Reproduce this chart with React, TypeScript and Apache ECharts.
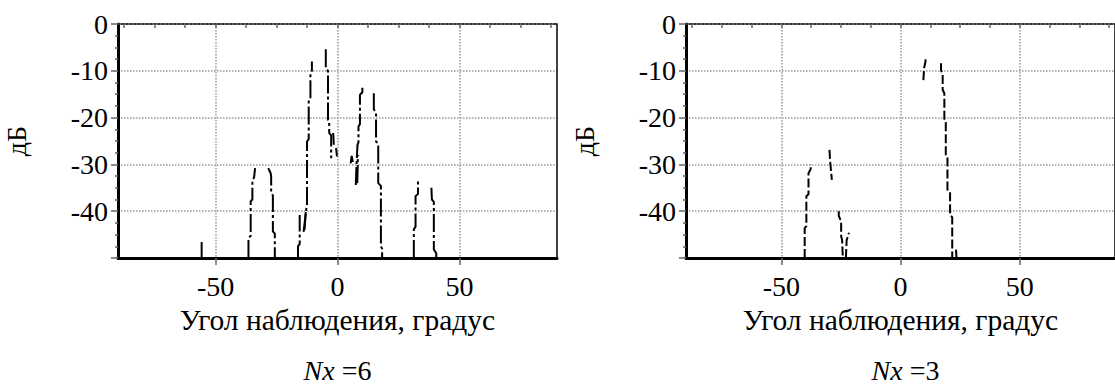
import React, { useEffect, useRef } from "react";
import * as echarts from "echarts";

const FONT = "Liberation Serif";

const xTitle = "Угол наблюдения, градус";
const yTitle = "дБ";
const panelLabels = ["6", "3"];
const xMinorTicks = [-87.5, -75, -62.5, -50, -37.5, -25, -12.5, 0, 12.5, 25, 37.5, 50, 62.5, 75, 87.5];

// Nx = 6 : traced curve pieces [angle, dB]
const leftStrokes: number[][][] = [
  [[-55.7, -46.6], [-55.7, -50]],
  [[-36.5, -50], [-36.5, -45.7], [-35.6, -45.3], [-35.6, -37.9], [-34.9, -37.5], [-34.9, -33.3], [-34.2, -32.8], [-33.8, -30.8]],
  [[-28.4, -30.8], [-27.4, -31.9], [-27.2, -32.5], [-27.2, -36.1], [-26.5, -36.6], [-26.5, -44.3], [-25.7, -44.8], [-25.7, -50]],
  [[-16.2, -50], [-16.2, -47.5], [-15.5, -47], [-15.5, -40.8]],
  [[-13.9, -44.4], [-12.8, -39.5], [-12.5, -39], [-12.5, -25.1], [-11.8, -24.6], [-11.8, -16.2], [-11.1, -15.7], [-11.1, -10.5], [-10.5, -10], [-10.5, -8]],
  [[-13.5, -44], [-13.0, -40]],
  [[-4.8, -5.4], [-4.8, -9.5], [-3.9, -10], [-3.9, -20.5], [-3.4, -21], [-3.4, -23.3], [-2.6, -23.8], [-2.6, -28.7]],
  [[-1.8, -23.3], [-1.5, -25.8]],
  [[-0.6, -26.5], [-0.2, -28.3]],
  [[5.4, -29.8], [5.8, -28.2], [6.3, -29.5]],
  [[7.5, -34.4], [7.8, -30], [8.2, -25.8], [8.6, -25.3], [8.6, -21.9], [9.2, -21.4], [9.2, -15.1], [10.2, -14.6], [10.2, -13.2]],
  [[8.1, -34], [8.4, -28]],
  [[14.9, -14.8], [14.9, -18.3], [15.8, -18.8], [15.8, -25.1], [16.7, -25.6], [16.7, -34], [17.8, -34.6], [17.8, -47.5], [18.3, -48], [18.3, -50]],
  [[31.3, -50], [31.3, -43.9], [32, -43.3], [32, -36.8], [33, -36.3], [33, -33.3]],
  [[38.5, -35], [38.7, -37.5], [39.5, -38], [39.5, -48.2], [40.5, -49], [40.5, -50]],
];

// Nx = 3 : traced curve pieces [angle, dB]
const rightStrokes: number[][][] = [
  [[-40.2, -50], [-40.2, -43.6], [-39.5, -43.2], [-39.5, -36.8], [-38.6, -36.4], [-38.6, -31.9], [-37.7, -31], [-37.7, -29.9]],
  [[-29.8, -26.9], [-29.5, -29.5], [-28.8, -33.3]],
  [[-25.9, -40], [-25.9, -41], [-24.9, -42.2], [-24.9, -45.4], [-24.5, -46.1], [-24.2, -50]],
  [[-22.9, -50], [-22.6, -46.2], [-21.6, -44.6]],
  [[9.6, -12], [9.9, -9.4], [10.4, -8.3], [10.6, -7.2]],
  [[17, -8.4], [17, -9.8], [17.7, -10.9], [17.7, -14.1], [18.4, -14.8], [18.4, -20.5], [19, -21], [19, -27.9], [19.7, -28.3], [19.7, -35.4], [20.8, -35.8], [20.8, -40.8], [21.7, -41.3], [21.7, -50]],
  [[23.3, -48.2], [23.5, -50]],
];

const GRID_LEFTS = [118, 686];
const GRID_TOP = 24;
const GRID_W = 439;
const GRID_H = 234;

function buildPanel(g: number, strokes: number[][][], dash: number[]) {
  const xAxes = [
    {
      gridIndex: g, type: "value", min: -90, max: 90, splitNumber: 3, position: "bottom",
      name: xTitle, nameLocation: "middle", nameGap: 45,
      nameTextStyle: { fontFamily: FONT, fontSize: 29.5, color: "#000" },
      axisLine: { show: true, onZero: false, lineStyle: { color: "#000", width: 3 } },
      axisTick: { show: true, length: 7, lineStyle: { color: "#666", width: 1.5 } },
      axisLabel: { showMinLabel: false, showMaxLabel: false, fontFamily: FONT, fontSize: 28, color: "#000", margin: 14 },
      splitLine: { show: true, showMinLine: false, showMaxLine: false, lineStyle: { type: "dotted", color: "#999", width: 1.5 } },
    },
    {
      gridIndex: g, type: "value", min: -90, max: 90, position: "bottom",
      axisLine: { show: false },
      axisTick: { show: true, customValues: xMinorTicks, length: 4, lineStyle: { color: "#666", width: 1.5 } },
      axisLabel: { show: false },
      splitLine: { show: false },
    },
    {
      gridIndex: g, type: "value", min: -90, max: 90, position: "top",
      axisLine: { show: true, onZero: false, lineStyle: { color: "#333", width: 2, type: "dotted" } },
      axisTick: { show: false }, axisLabel: { show: false }, splitLine: { show: false },
    },
  ];
  const yAxes = [
    {
      gridIndex: g, type: "value", min: -50, max: 0, interval: 10, position: "left",
      name: yTitle, nameLocation: "middle", nameGap: 88, nameRotate: 90,
      nameTextStyle: { fontFamily: FONT, fontSize: 28, color: "#000" },
      axisLine: { show: true, onZero: false, lineStyle: { color: "#000", width: 3 } },
      axisTick: { show: true, length: 7, lineStyle: { color: "#666", width: 1.5 } },
      minorTick: { show: true, splitNumber: 4, length: 3, lineStyle: { color: "#666", width: 1.5 } },
      axisLabel: { showMinLabel: false, fontFamily: FONT, fontSize: 28, color: "#000", margin: 10 },
      splitLine: { show: true, showMinLine: false, lineStyle: { type: "dotted", color: "#999", width: 1.5 } },
    },
    {
      gridIndex: g, type: "value", min: -50, max: 0, position: "right",
      axisLine: { show: true, onZero: false, lineStyle: { color: "#000", width: 1.5 } },
      axisTick: { show: false }, axisLabel: { show: false }, splitLine: { show: false },
    },
  ];
  const series = strokes.map((s) => ({
    type: "line",
    xAxisIndex: g * 3,
    yAxisIndex: g * 2,
    data: s,
    showSymbol: false,
    symbol: "none",
    silent: true,
    lineStyle: { color: "#000", width: 2, type: dash },
    z: 5,
  }));
  return { xAxes, yAxes, series };
}

export default function App() {
  const ref = useRef<HTMLDivElement>(null);
  useEffect(() => {
    if (!ref.current) return;
    const chart = echarts.init(ref.current, null, { renderer: "svg" });
    const p0 = buildPanel(0, leftStrokes, [18, 3, 3, 3]);
    const p1 = buildPanel(1, rightStrokes, [9, 3]);
    const labelGraphic = panelLabels.map((n, i) => ({
      type: "text",
      x: GRID_LEFTS[i] + GRID_W / 2,
      y: 370,
      style: {
        text: "{i|Nx }{n|=" + n + "}",
        align: "center",
        verticalAlign: "middle",
        fill: "#000",
        rich: {
          i: { fontFamily: FONT, fontSize: 28, fontStyle: "italic", fill: "#000" },
          n: { fontFamily: FONT, fontSize: 28, fill: "#000" },
        },
      },
    }));
    chart.setOption({
      animation: false,
      backgroundColor: "#fff",
      textStyle: { fontFamily: FONT },
      grid: GRID_LEFTS.map((l) => ({ left: l, top: GRID_TOP, width: GRID_W, height: GRID_H, containLabel: false })),
      xAxis: [...p0.xAxes, ...p1.xAxes],
      yAxis: [...p0.yAxes, ...p1.yAxes],
      series: [...p0.series, ...p1.series],
      graphic: labelGraphic,
    });
    return () => chart.dispose();
  }, []);
  return (
    <div
      ref={ref}
      style={{ position: "fixed", left: 0, top: 0, width: 1115, height: 385, background: "#fff" }}
    />
  );
}
